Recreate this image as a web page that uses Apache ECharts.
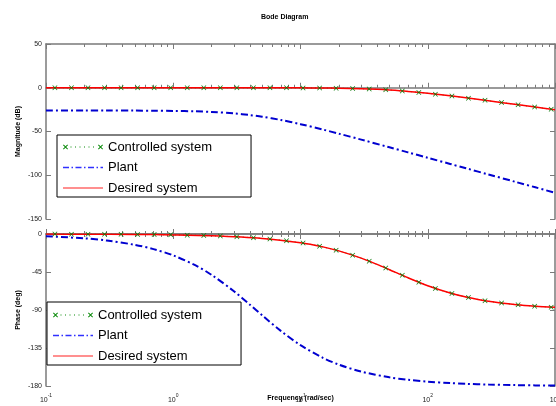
<!DOCTYPE html>
<html>
<head>
<meta charset="utf-8">
<script src="https://cdn.jsdelivr.net/npm/echarts@6/dist/echarts.min.js"></script>
<style>
  html, body { margin: 0; padding: 0; background: #fff; }
  #chart { width: 556px; height: 406px; }
</style>
</head>
<body>
<div id="chart"></div>
<script>
// Frequencies (rad/sec) of the marker samples of the controlled system
const freqControlled = [0.1175, 0.1585, 0.2138, 0.2884, 0.389, 0.5248, 0.7079, 0.955, 1.288, 1.738,
  2.344, 3.162, 4.266, 5.754, 7.762, 10.47, 14.13, 19.05, 25.7, 34.67,
  46.77, 63.1, 85.11, 114.8, 154.9, 208.9, 281.8, 380.2, 512.9, 691.8, 933.3];
const controlledMag = [0, 0, 0, 0, 0, 0, 0, 0, 0, -0.01,
  -0.01, -0.01, -0.03, -0.05, -0.09, -0.16, -0.28, -0.49, -0.86, -1.45,
  -2.36, -3.65, -5.31, -7.29, -9.51, -11.88, -14.35, -16.88, -19.44, -22.02, -24.61];
const controlledPhase = [-0.12, -0.17, -0.22, -0.3, -0.41, -0.55, -0.74, -0.99, -1.34, -1.81,
  -2.44, -3.29, -4.43, -5.97, -8.03, -10.78, -14.41, -19.1, -25.05, -32.23,
  -40.38, -48.92, -57.13, -64.4, -70.45, -75.25, -78.96, -81.77, -83.88, -85.46, -86.63];

// Plant response
const freqPlant = [0.1, 0.2, 0.3, 0.5, 0.7, 1, 1.5, 2, 3, 4, 5, 7, 10, 15, 20, 30, 50, 70,
  100, 150, 200, 300, 500, 700, 1000];
const plantMag = [-26.02, -26.04, -26.06, -26.13, -26.24, -26.45, -26.97, -27.63, -29.29, -31.18,
  -33.12, -36.82, -41.61, -47.8, -52.47, -59.28, -68.03, -73.84,
  -80.02, -87.05, -92.05, -99.09, -107.96, -113.8, -120.0];
const plantPhase = [-2.58, -5.15, -7.72, -12.84, -17.9, -25.35, -37.26, -48.37, -67.83, -83.66,
  -96.34, -114.72, -131.63, -146.63, -154.65, -162.94, -169.72, -172.64,
  -174.85, -176.56, -177.42, -178.28, -178.97, -179.26, -179.49];

// Desired closed-loop response
const freqDesired = [0.1, 0.2, 0.5, 1, 2, 5, 10, 15, 20, 30, 40, 50, 70, 100, 150, 200, 300, 500, 700, 1000];
const desiredMag = [0, 0, 0, 0, -0.01, -0.04, -0.14, -0.31, -0.54, -1.13, -1.84, -2.62, -4.18,
  -6.34, -9.26, -11.53, -14.88, -19.22, -22.12, -25.21];
const desiredPhase = [-0.1, -0.21, -0.52, -1.04, -2.08, -5.19, -10.3, -15.26, -19.98, -28.61, -36.03,
  -42.27, -51.84, -61.19, -69.86, -74.62, -79.61, -83.72, -85.51, -86.85];

// Axis ticks
const freqMajorTicks = [0.1, 1, 10, 100, 1000];
const freqMinorTicks = [0.2, 0.3, 0.4, 0.5, 0.6, 0.7, 0.8, 0.9,
  2, 3, 4, 5, 6, 7, 8, 9, 20, 30, 40, 50, 60, 70, 80, 90,
  200, 300, 400, 500, 600, 700, 800, 900];
const magRange = [-150, 50, 50];     // min, max, step (dB)
const phaseRange = [-180, 0, 45];    // min, max, step (deg)

const seriesNames = ['Controlled system', 'Plant', 'Desired system'];
const seriesColors = ['#0a7a0a', '#0000d0', '#ff0000'];
const legendColors = ['#0a8a0a', '#3030ff', '#ff2020'];

const zip = (xs, ys) => xs.map((x, i) => [x, ys[i]]);

const AXIS_COLOR = '#7a7a7a';
const FONT = 'Liberation Sans, Arial, sans-serif';
const xMark = 'path://M0,1L1,0L5,4L9,0L10,1L6,5L10,9L9,10L5,6L1,10L0,9L4,5Z';

// Legend samples (40 x 5 box): markers at both ends, dash patterns as in the plot
const boxCorners = 'M0,0h0.05v0.05h-0.05Z M39.95,4.95h0.05v0.05h-0.05Z ';
const iconControlled = 'path://' + boxCorners +
  'M0,0.7L0.7,0L2.5,1.8L4.3,0L5,0.7L3.2,2.5L5,4.3L4.3,5L2.5,3.2L0.7,5L0,4.3L1.8,2.5Z ' +
  'M35,0.7L35.7,0L37.5,1.8L39.3,0L40,0.7L38.2,2.5L40,4.3L39.3,5L37.5,3.2L35.7,5L35,4.3L36.8,2.5Z ' +
  'M7.5,2h1v1h-1Z M12,2h1v1h-1Z M16.5,2h1v1h-1Z M21,2h1v1h-1Z M25.5,2h1v1h-1Z M30,2h1v1h-1Z';
const iconPlant = 'path://' + boxCorners +
  'M0,1.75h6v1.5h-6Z M8.5,1.75h1.5v1.5h-1.5Z M12.5,1.75h6v1.5h-6Z M21,1.75h1.5v1.5h-1.5Z ' +
  'M25,1.75h6v1.5h-6Z M33.5,1.75h1.5v1.5h-1.5Z M37.5,1.75h2.5v1.5h-2.5Z';
const iconDesired = 'path://' + boxCorners + 'M0,2h40v1h-40Z';
const legendIcons = [iconControlled, iconPlant, iconDesired];

const grids = [
  { left: 46, top: 44, width: 509, height: 175, outerBoundsMode: 'none', containLabel: false },
  { left: 46, top: 234, width: 509, height: 152, outerBoundsMode: 'none', containLabel: false }
];

function xAxesFor(gi) {
  const base = {
    gridIndex: gi, type: 'log', logBase: 10, min: 0.1, max: 1000,
    splitLine: { show: false }
  };
  const showLabels = gi === 1;
  return [
    Object.assign({}, base, {
      position: 'bottom',
      axisLine: { show: true, lineStyle: { color: AXIS_COLOR, width: 1.5 } },
      axisTick: { show: true, inside: true, length: 5, customValues: freqMajorTicks,
        lineStyle: { color: AXIS_COLOR, width: 1 } },
      axisLabel: {
        show: showLabels, customValues: freqMajorTicks, margin: 7, hideOverlap: false,
        formatter: v => '{b|10}{s|' + Math.round(Math.log10(v)) + '}',
        rich: {
          b: { fontSize: 7, fontFamily: FONT, color: '#222', verticalAlign: 'bottom', lineHeight: 11 },
          s: { fontSize: 5, fontFamily: FONT, color: '#222', verticalAlign: 'top', lineHeight: 11 }
        }
      },
      name: showLabels ? 'Frequency (rad/sec)' : '',
      nameLocation: 'middle', nameGap: 9, nameMoveOverlap: false,
      nameTextStyle: { fontSize: 7, fontWeight: 'bold', fontFamily: FONT, color: '#000' }
    }),
    Object.assign({}, base, {
      position: 'bottom',
      axisLine: { show: false },
      axisTick: { show: true, inside: true, length: 3, customValues: freqMinorTicks,
        lineStyle: { color: AXIS_COLOR, width: 1 } },
      axisLabel: { show: false }
    }),
    Object.assign({}, base, {
      position: 'top',
      axisLine: { show: true, lineStyle: { color: AXIS_COLOR, width: 1.5 } },
      axisTick: { show: true, inside: true, length: 5, customValues: freqMajorTicks,
        lineStyle: { color: AXIS_COLOR, width: 1 } },
      axisLabel: { show: false }
    }),
    Object.assign({}, base, {
      position: 'top',
      axisLine: { show: false },
      axisTick: { show: true, inside: true, length: 3, customValues: freqMinorTicks,
        lineStyle: { color: AXIS_COLOR, width: 1 } },
      axisLabel: { show: false }
    })
  ];
}

function yAxesFor(gi, range, title) {
  const base = {
    gridIndex: gi, type: 'value', min: range[0], max: range[1], interval: range[2],
    splitLine: { show: false },
    axisLine: { show: true, lineStyle: { color: AXIS_COLOR, width: 1.5 } },
    axisTick: { show: true, inside: true, length: 5, lineStyle: { color: AXIS_COLOR, width: 1 } }
  };
  return [
    Object.assign({}, base, {
      position: 'left',
      axisLabel: { show: true, fontSize: 7, fontFamily: FONT, color: '#222', margin: 4 },
      name: title, nameLocation: 'middle', nameGap: 24, nameRotate: 90, nameMoveOverlap: false,
      nameTextStyle: { fontSize: 7, fontWeight: 'bold', fontFamily: FONT, color: '#000' }
    }),
    Object.assign({}, base, {
      position: 'right',
      axisLabel: { show: false }
    })
  ];
}

function seriesFor(gi, controlled, plant, desired) {
  const xi = gi * 4, yi = gi * 2;
  return [
    {
      name: seriesNames[0], type: 'line', xAxisIndex: xi, yAxisIndex: yi,
      data: zip(freqControlled, controlled),
      symbol: xMark, symbolSize: 5, showSymbol: true, showAllSymbol: true,
      itemStyle: { color: seriesColors[0] },
      lineStyle: { color: seriesColors[0], width: 1, type: [1, 3] },
      smooth: 0.3, animation: false, silent: true
    },
    {
      name: seriesNames[1], type: 'line', xAxisIndex: xi, yAxisIndex: yi,
      data: zip(freqPlant, plant),
      symbol: 'none', showSymbol: false,
      itemStyle: { color: seriesColors[1] },
      lineStyle: { color: seriesColors[1], width: 2, type: [7, 3, 2, 3] },
      smooth: 0.3, animation: false, silent: true
    },
    {
      name: seriesNames[2], type: 'line', xAxisIndex: xi, yAxisIndex: yi,
      data: zip(freqDesired, desired),
      symbol: 'none', showSymbol: false,
      itemStyle: { color: seriesColors[2] },
      lineStyle: { color: seriesColors[2], width: 1.5 },
      smooth: 0.3, animation: false, silent: true
    }
  ];
}

function legendAt(left, top, padTop, padBottom) {
  return {
    data: seriesNames.map((n, i) => ({
      name: n, icon: legendIcons[i],
      itemStyle: { color: legendColors[i], borderWidth: 0, borderColor: legendColors[i] }
    })),
    orient: 'vertical', left: left, top: top,
    padding: [padTop, 39, padBottom, 6], itemGap: 6.5, itemWidth: 40, itemHeight: 5,
    symbolKeepAspect: false,
    itemStyle: { borderWidth: 0 },
    backgroundColor: '#fff', borderColor: '#000', borderWidth: 1,
    selectedMode: false,
    textStyle: { fontSize: 13, fontFamily: FONT, color: '#000', lineHeight: 14 }
  };
}

const chart = echarts.init(document.getElementById('chart'), null, { renderer: 'canvas' });
chart.setOption({
  animation: false,
  backgroundColor: '#fff',
  title: {
    text: 'Bode Diagram', left: 256, top: 9,
    textStyle: { fontSize: 7, fontWeight: 'bold', fontFamily: FONT, color: '#000' }
  },
  legend: [legendAt(57, 135, 5, 2), legendAt(47, 302, 6, 2)],
  grid: grids,
  xAxis: xAxesFor(0).concat(xAxesFor(1)),
  yAxis: yAxesFor(0, magRange, 'Magnitude (dB)').concat(yAxesFor(1, phaseRange, 'Phase (deg)')),
  series: seriesFor(0, controlledMag, plantMag, desiredMag)
    .concat(seriesFor(1, controlledPhase, plantPhase, desiredPhase))
});
</script>
</body>
</html>
